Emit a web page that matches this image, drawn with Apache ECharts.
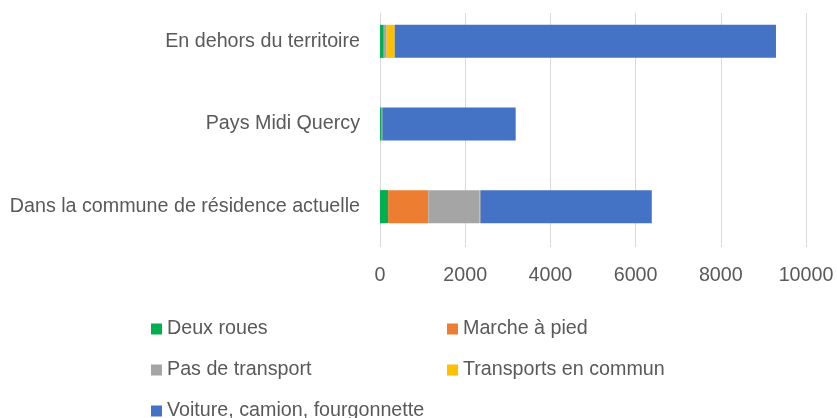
<!DOCTYPE html>
<html>
<head>
<meta charset="utf-8">
<script src="https://cdn.jsdelivr.net/npm/echarts@6/dist/echarts.min.js"></script>
<style>
  html, body { margin: 0; padding: 0; background: #fff; }
  #chart { width: 837px; height: 418px; }
</style>
</head>
<body>
<div id="chart"></div>
<script>
// categories, bottom to top
var categories = ['Dans la commune de résidence actuelle', 'Pays Midi Quercy', 'En dehors du territoire'];
var deuxRoues = [190, 25, 70];
var marche = [945, 30, 25];
var pasTransport = [1190, 0, 60];
var transports = [30, 0, 190];
var voiture = [4025, 3130, 8950];
var xTicks = [0, 2000, 4000, 6000, 8000, 10000];

var textColor = '#595959';
var font = 'Liberation Sans';
var fs = 19.7;

function serie(name, data, color) {
  return {
    name: name,
    type: 'bar',
    stack: 'total',
    barCategoryGap: '60%',
    data: data,
    itemStyle: { color: color },
    emphasis: { disabled: true }
  };
}

// one legend per item so the two columns line up like the original
function legendItem(left, top, name) {
  return {
    left: left,
    top: top,
    icon: 'rect',
    itemWidth: 11,
    itemHeight: 11,
    data: [name],
    selectedMode: false,
    textStyle: { color: textColor, fontSize: fs, fontFamily: font }
  };
}

var chart = echarts.init(document.getElementById('chart'));
chart.setOption({
  animation: false,
  textStyle: { fontFamily: font },
  grid: [
    { left: 380, top: 0, width: 426, height: 248 },   // bars
    { left: 380, top: 13, width: 426, height: 234 }   // gridlines + ticks
  ],
  xAxis: [
    {
      type: 'value', gridIndex: 0,
      min: xTicks[0], max: xTicks[xTicks.length - 1], interval: 2000,
      show: false
    },
    {
      type: 'value', gridIndex: 1,
      min: xTicks[0], max: xTicks[xTicks.length - 1], interval: 2000,
      axisLine: { show: false },
      axisTick: { show: false },
      axisLabel: { color: textColor, fontSize: fs, margin: 19, formatter: function (v) { return String(v); } },
      splitLine: { lineStyle: { color: '#d9d9d9' } }
    }
  ],
  yAxis: [
    {
      type: 'category', gridIndex: 0,
      data: categories,
      axisLine: { show: false },
      axisTick: { show: false },
      axisLabel: { color: textColor, fontSize: fs, margin: 20 }
    },
    {
      type: 'value', gridIndex: 1, min: 0, max: 1,
      show: false
    }
  ],
  legend: [
    legendItem(146, 314, 'Deux roues'),
    legendItem(442, 314, 'Marche à pied'),
    legendItem(146, 355, 'Pas de transport'),
    legendItem(442, 355, 'Transports en commun'),
    legendItem(146, 396, 'Voiture, camion, fourgonnette')
  ],
  series: [
    serie('Deux roues', deuxRoues, '#00b050'),
    serie('Marche à pied', marche, '#ed7d31'),
    serie('Pas de transport', pasTransport, '#a5a5a5'),
    serie('Transports en commun', transports, '#ffc000'),
    serie('Voiture, camion, fourgonnette', voiture, '#4472c4')
  ]
});
</script>
</body>
</html>
